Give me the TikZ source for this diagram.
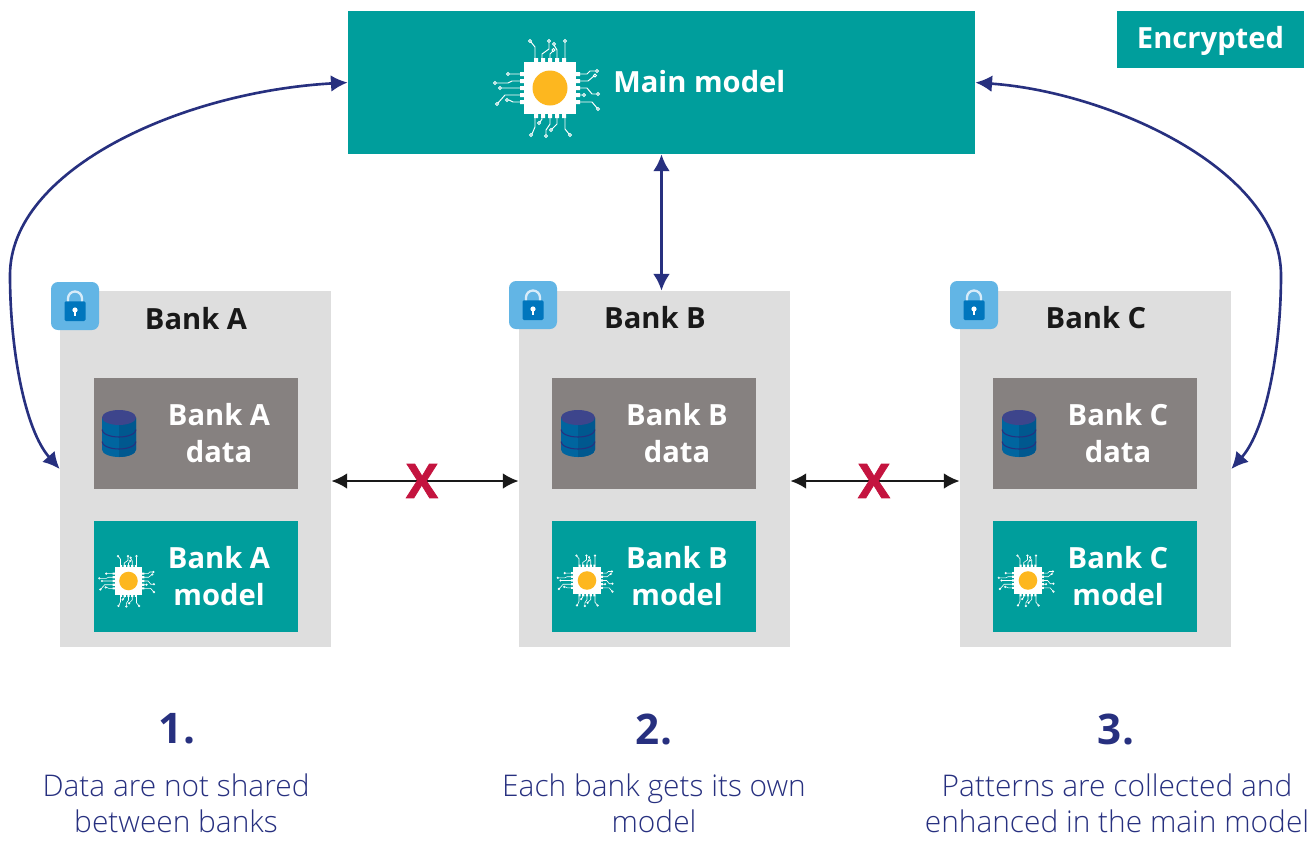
\documentclass[tikz,border=0pt]{standalone}
\usepackage{fontspec}
\setmainfont{Open Sans}
\newfontfamily\lightfont{Open Sans Light}
\newfontfamily\heavyfont[BoldFeatures={FakeBold=1.5}]{Open Sans}
\definecolor{tealbox}{HTML}{009E9C}
\definecolor{greybank}{HTML}{DEDEDE}
\definecolor{greydata}{HTML}{868180}
\definecolor{navyline}{HTML}{27307F}
\definecolor{chiporange}{HTML}{FDB71F}
\definecolor{lockback}{HTML}{62B5E5}
\definecolor{lockblue}{HTML}{0076BD}
\definecolor{dbblue}{HTML}{00659F}
\definecolor{dbdark}{HTML}{00588F}
\definecolor{crossred}{HTML}{C4143F}
\usetikzlibrary{arrows.meta}
\tikzset{
  bankbox/.style={fill=greybank, minimum width=271*0.02cm, minimum height=356*0.02cm, inner sep=0pt},
  databox/.style={fill=greydata, minimum width=204*0.02cm, minimum height=111*0.02cm, inner sep=0pt},
  modelbox/.style={fill=tealbox, minimum width=204*0.02cm, minimum height=111*0.02cm, inner sep=0pt},
  boxtext/.style={text=white, font=\fontsize{16.6}{21}\selectfont\bfseries, align=center, inner sep=0pt},
  banktitle/.style={text=black!90, font=\fontsize{16.6}{21}\selectfont\bfseries, inner sep=0pt},
  stepnumber/.style={text=navyline, font=\fontsize{24}{28}\selectfont\bfseries, inner sep=0pt},
  steptext/.style={text=navyline, font=\lightfont\fontsize{17}{20}\selectfont, align=center, inner sep=0pt},
  crossmark/.style={text=crossred, font=\heavyfont\fontsize{27}{27}\selectfont\bfseries, inner sep=0pt},
  modellink/.style={navyline, line width=1.5pt, {Latex[length=9.5pt,width=9.5pt]}-{Latex[length=9.5pt,width=9.5pt]}},
  banklink/.style={black!90, line width=1.4pt, {Latex[length=9pt,width=9pt]}-{Latex[length=9pt,width=9pt]}},
  chipline/.style={draw=white, line width=.55pt},
  chipsmall/.style={scale=.53, chipline/.style={draw=white, line width=.35pt}},
  chip/.pic={
    % pins
    \fill[white] (-30,-16) rectangle (30,-12) (-30,-9) rectangle (30,-5) (-30,-2) rectangle (30,2)
      (-30,5) rectangle (30,9) (-30,12) rectangle (30,16);
    \fill[white] (-16,-30) rectangle (-12,30) (-9,-30) rectangle (-5,30) (-2,-30) rectangle (2,30)
      (5,-30) rectangle (9,30) (12,-30) rectangle (16,30);
    % traces on top
    \draw[chipline] (-15,-26) -- (-15,-41) -- (-19,-46) (-20,-47) circle (1.5);
    \draw[chipline] (-8,-26) -- (-8,-34) -- (-1,-39) -- (-1,-46) (-1,-47) circle (1.5);
    \draw[chipline] (0,-26) -- (0,-34) -- (3,-37) (3.5,-38) circle (1.5);
    \draw[chipline] (7,-26) -- (7,-38) -- (4,-43) (4,-44) circle (1.5);
    \draw[chipline] (15,-26) -- (15,-46) (15,-47) circle (1.5);
    % traces on the right
    \draw[chipline] (26,-14) -- (37,-14) -- (40,-17) -- (46,-17) (47,-17) circle (1.5);
    \draw[chipline] (26,-7) -- (38,-7) -- (44,-12) (45,-12.5) circle (1.5);
    \draw[chipline] (26,0) -- (37,0) -- (42,6) -- (47,6) (48,6) circle (1.5);
    \draw[chipline] (26,7) -- (33,7) (34,7) circle (1.5);
    \draw[chipline] (26,14) -- (42,14) -- (47,20) (48,21) circle (1.5);
    % traces below
    \draw[chipline] (-15,26) -- (-15,39) -- (-18,46) (-19,47) circle (1.5);
    \draw[chipline] (-8,26) -- (-8,31) -- (-10,34) (-11,35) circle (1.5);
    \draw[chipline] (0,26) -- (0,36) -- (-4,42) -- (-4,47) (-4,48) circle (1.5);
    \draw[chipline] (7,26) -- (7,36) -- (2,41) (1,42) circle (1.5);
    \draw[chipline] (15,26) -- (15,41) -- (19,46) (20,47) circle (1.5);
    % traces on the left
    \draw[chipline] (-26,-14) -- (-41,-14) (-42,-14) circle (1.5);
    \draw[chipline] (-26,-7) -- (-38,-7) -- (-42,-5) -- (-54,-5) (-55,-5) circle (1.5);
    \draw[chipline] (-26,0) -- (-49,0) (-50,0) circle (1.5);
    \draw[chipline] (-26,7) -- (-45,7) -- (-52,15) (-53,16) circle (1.5);
    \draw[chipline] (-26,14) -- (-37,14) -- (-41,12) -- (-42,12) (-43,12) circle (1.5);
    % body
    \fill[white] (-26,-26) rectangle (26,26);
    \fill[chiporange] (0,0) circle (17.5);
  },
  lockicon/.pic={
    \fill[lockback, rounded corners=4pt] (-24,-24) rectangle (24,24);
    \draw[white!75!lockback, line width=1.3pt] (-7,-4) -- (-7,-7.5) arc[start angle=180, end angle=360, radius=7] -- (7,-4);
    \fill[lockblue, rounded corners=.8pt] (-10.5,-4.7) rectangle (10.5,15);
    \fill[white] (0,4) circle (2.6);
    \fill[white] (-1.2,4) rectangle (1.2,10);
  },
  dbicon/.pic={
    \fill[dbblue] (-17,-16) -- (-17,16) arc[start angle=180, end angle=0, x radius=17, y radius=7.5] -- (17,-16) -- cycle;
    \fill[dbdark] (0,-16) -- (0,23.5) arc[start angle=90, end angle=0, x radius=17, y radius=7.5] -- (17,-16) -- cycle;
    \draw[navyline, line width=.6pt] (-17,-4) arc[start angle=180, end angle=0, x radius=17, y radius=7.5];
    \draw[navyline, line width=.6pt] (-17,8) arc[start angle=180, end angle=0, x radius=17, y radius=7.5];
    \fill[navyline!90!white] (0,-16) ellipse[x radius=17, y radius=7.5];
  },
}
\begin{document}
\begin{tikzpicture}[x=0.02cm, y=-0.02cm]
  \useasboundingbox (0,0) rectangle (1313,840);

  % Main model
  \node[fill=tealbox, minimum width=627*0.02cm, minimum height=143*0.02cm, inner sep=0pt] (main) at (661.5,82.5) {};
  \pic at (550,88) {chip};
  \node[boxtext, anchor=west] (maintext) at (613,82) {Main model};
  \node[fill=tealbox, minimum width=187*0.02cm, minimum height=57*0.02cm, inner sep=0pt] (encrypted) at (1210.5,39.5) {};
  \node[boxtext] (encryptedtext) at (1210.5,41) {Encrypted};

  % Bank A
  \node[bankbox] (bankA) at (195.5,469) {};
  \pic at (75,306) {lockicon};
  \node[banktitle] (titleA) at (196,319) {Bank A};
  \node[databox] (dataA) at (196,433.5) {};
  \pic at (119,433.5) {dbicon};
  \node[boxtext] (dataAtext) at (219,433) {Bank A\\data};
  \node[modelbox] (modelA) at (196,576.5) {};
  \pic[chipsmall] at (128.5,581) {chip};
  \node[boxtext] (modelAtext) at (219,576) {Bank A\\model};

  % Bank B
  \node[bankbox] (bankB) at (654.5,469) {};
  \pic at (533,305) {lockicon};
  \node[banktitle] (titleB) at (655,318) {Bank B};
  \node[databox] (dataB) at (654,433.5) {};
  \pic at (578,433.5) {dbicon};
  \node[boxtext] (dataBtext) at (677,433) {Bank B\\data};
  \node[modelbox] (modelB) at (654,576) {};
  \pic[chipsmall] at (587,580.5) {chip};
  \node[boxtext] (modelBtext) at (677,576) {Bank B\\model};

  % Bank C
  \node[bankbox] (bankC) at (1095.5,469) {};
  \pic at (974,305) {lockicon};
  \node[banktitle] (titleC) at (1096,318) {Bank C};
  \node[databox] (dataC) at (1095,433.5) {};
  \pic at (1019,433.5) {dbicon};
  \node[boxtext] (dataCtext) at (1118,433) {Bank C\\data};
  \node[modelbox] (modelC) at (1095,576) {};
  \pic[chipsmall] at (1028,580.5) {chip};
  \node[boxtext] (modelCtext) at (1118,576) {Bank C\\model};

  % Links between banks
  \coordinate (linkAB) at (422,481);
  \coordinate (linkBC) at (874,481);
  \draw[banklink] (bankA.east |- linkAB) -- (bankB.west |- linkAB);
  \draw[banklink] (bankB.east |- linkBC) -- (bankC.west |- linkBC);
  \node[crossmark] (crossAB) at (linkAB) {X};
  \node[crossmark] (crossBC) at (linkBC) {X};

  % Links to the main model
  \draw[modellink] (main.west) .. controls (180,92) and (10,170) .. (10,275) .. controls (10,350) and (25,430) .. (bankA.west);
  \draw[modellink] (main.east) .. controls (1110,92) and (1281,170) .. (1281,275) .. controls (1281,350) and (1266,430) .. (bankC.east);
  \draw[modellink] (main.south) -- (main.south |- bankB.north);

  % Steps
  \node[stepnumber] (numA) at (177,729) {1.};
  \node[stepnumber] (numB) at (654,729) {2.};
  \node[stepnumber] (numC) at (1116,729) {3.};
  \node[steptext, anchor=base] (stepA) at (176,832) {Data are not shared\\between banks};
  \node[steptext, anchor=base] (stepB) at (654,832) {Each bank gets its own\\model};
  \node[steptext, anchor=base] (stepC) at (1117,832) {Patterns are collected and\\enhanced in the main model};
\end{tikzpicture}
\end{document}
